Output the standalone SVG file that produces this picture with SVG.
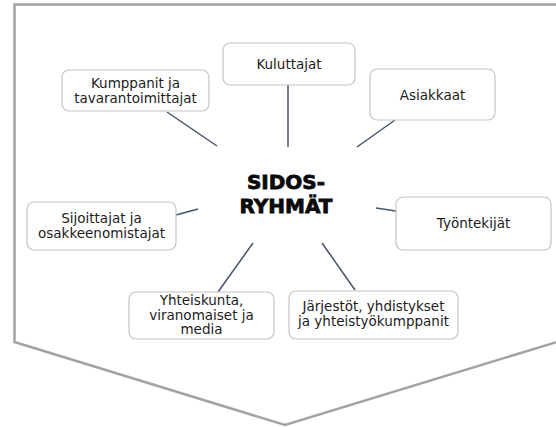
<svg xmlns="http://www.w3.org/2000/svg" width="556" height="427" viewBox="0 0 556 427">
<style>
.bg{fill:#fff}
.frame{fill:none;stroke:#a3a3a3;stroke-width:2.5}
.box{fill:#fff;stroke:#c4c4c4;stroke-width:1.2}
.lbl{font-family:"DejaVu Sans","Liberation Sans",sans-serif;font-size:13.5px;fill:#1c1c1c;text-anchor:middle}
.hub{font-family:"DejaVu Sans","Liberation Sans",sans-serif;font-size:20px;font-weight:bold;fill:#0a0a0a;stroke:#0a0a0a;stroke-width:0.8;text-anchor:middle}
.conn line{stroke:#46536a;stroke-width:1.5}
</style>
<rect class="bg" x="0" y="0" width="556" height="427"/>
<path class="frame" d="M560 4.5 H14.5 V342 L285 425 L560 341"/>
<g class="conn">
<line x1="167" y1="112" x2="217" y2="146"/>
<line x1="288" y1="85" x2="288" y2="147"/>
<line x1="395" y1="120" x2="357" y2="147"/>
<line x1="176" y1="215" x2="198" y2="209"/>
<line x1="376" y1="208" x2="396" y2="211"/>
<line x1="253" y1="243" x2="218" y2="292"/>
<line x1="322" y1="243" x2="355" y2="290"/>
</g>
<g id="hub"><text class="hub" x="286" y="189">SIDOS-</text><text class="hub" x="286" y="213">RYHMÄT</text></g>
<g id="kumppanit"><rect class="box" x="62" y="70" width="147" height="41" rx="7"/><text class="lbl" x="135.5" y="88">Kumppanit ja</text><text class="lbl" x="135.5" y="103">tavarantoimittajat</text></g>
<g id="kuluttajat"><rect class="box" x="223" y="43" width="132" height="42" rx="7"/><text class="lbl" x="289" y="69">Kuluttajat</text></g>
<g id="asiakkaat"><rect class="box" x="370" y="69" width="125" height="51" rx="7"/><text class="lbl" x="432.5" y="100">Asiakkaat</text></g>
<g id="sijoittajat"><rect class="box" x="27" y="202" width="149" height="48" rx="7"/><text class="lbl" x="101.5" y="223">Sijoittajat ja</text><text class="lbl" x="101.5" y="238">osakkeenomistajat</text></g>
<g id="tyontekijat"><rect class="box" x="396" y="197" width="155" height="53" rx="7"/><text class="lbl" x="473.5" y="228">Työntekijät</text></g>
<g id="yhteiskunta"><rect class="box" x="129" y="292" width="145" height="47" rx="7"/><text class="lbl" x="201.5" y="305">Yhteiskunta,</text><text class="lbl" x="201.5" y="319.5">viranomaiset ja</text><text class="lbl" x="201.5" y="334">media</text></g>
<g id="jarjestot"><rect class="box" x="289" y="291" width="169" height="48" rx="7"/><text class="lbl" x="373.5" y="311">Järjestöt, yhdistykset</text><text class="lbl" x="373.5" y="326">ja yhteistyökumppanit</text></g>
</svg>
